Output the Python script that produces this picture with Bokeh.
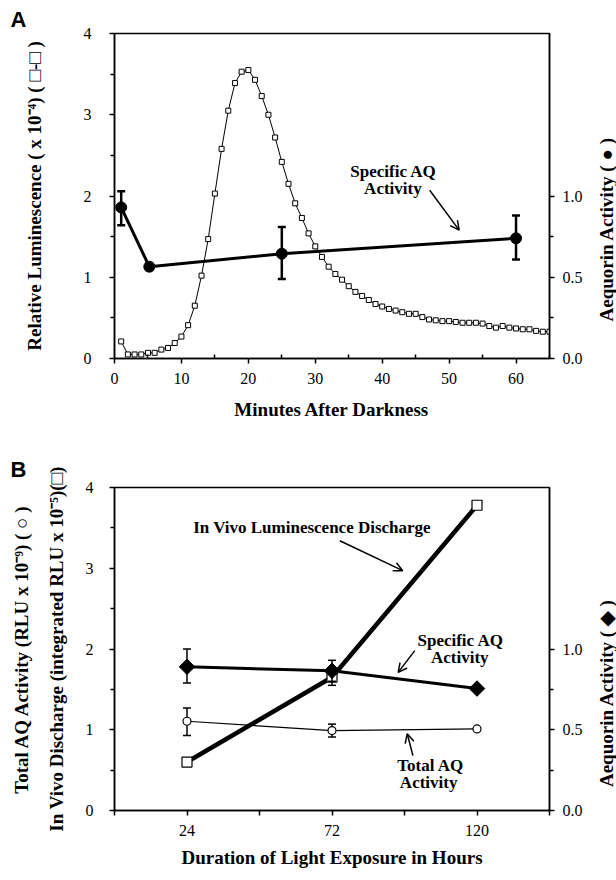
import numpy as np
from bokeh.plotting import figure
from bokeh.models import Range1d, LinearAxis, FixedTicker, Label, Arrow, OpenHead
from bokeh.layouts import column, row
from bokeh.embed import file_html
from bokeh.resources import INLINE

# ---------------- Panel A data ----------------
lum_minutes = list(range(1, 66))
lum_values = [0.21, 0.05, 0.05, 0.05, 0.07, 0.07, 0.11, 0.13, 0.19, 0.27,
              0.41, 0.65, 1.02, 1.47, 2.03, 2.58, 3.05, 3.39, 3.53, 3.55,
              3.43, 3.23, 3.00, 2.72, 2.42, 2.15, 1.91, 1.73, 1.54, 1.38,
              1.25, 1.13, 1.04, 0.97, 0.89, 0.82, 0.77, 0.72, 0.67, 0.64,
              0.61, 0.59, 0.57, 0.55, 0.55, 0.51, 0.48, 0.47, 0.46, 0.46,
              0.45, 0.44, 0.44, 0.44, 0.43, 0.40, 0.38, 0.40, 0.38, 0.37,
              0.36, 0.36, 0.34, 0.33, 0.33]
aqA_minutes = [1, 5.2, 25, 60]
aqA_activity = [0.93, 0.565, 0.645, 0.74]
aqA_upper = [1.03, 0.585, 0.81, 0.88]
aqA_lower = [0.82, 0.545, 0.49, 0.61]

# ---------------- Panel B data ----------------
hours = [24, 72, 120]
discharge = [0.60, 1.65, 3.78]
discharge_upper = [0.60, 1.75, 3.78]
discharge_lower = [0.60, 1.55, 3.78]
specB = [0.89, 0.865, 0.755]
specB_upper = [1.00, 0.93, 0.755]
specB_lower = [0.79, 0.80, 0.755]
totalB = [1.105, 0.99, 1.01]
totalB_upper = [1.27, 1.07, 1.01]
totalB_lower = [0.93, 0.91, 1.01]

SERIF = "Liberation Serif"
SANS = "Liberation Sans"
TICK_FS = "16px"
TITLE_FS = "19px"
ANN_FS = "17px"
MAIN_W = 586
STRIP_W = 616 - MAIN_W
PANEL_H = 440


def style_fig(p, letter, standoff):
    p.outline_line_color = "black"
    p.outline_line_width = 1.5
    p.xgrid.visible = False
    p.ygrid.visible = False
    p.background_fill_color = "white"
    p.border_fill_color = "white"
    p.title.text = letter
    p.title.align = "left"
    p.title.offset = -104
    p.title.standoff = standoff
    p.title.text_font = SANS
    p.title.text_font_style = "bold"
    p.title.text_font_size = "22px"
    p.title.text_color = "black"


def style_axis(ax):
    ax.axis_line_width = 1.5
    ax.axis_line_color = "black"
    ax.major_tick_line_width = 1.5
    ax.minor_tick_line_width = 1.5
    ax.major_tick_in = 0
    ax.major_tick_out = 5
    ax.minor_tick_in = 0
    ax.minor_tick_out = 4
    ax.major_label_text_font = SERIF
    ax.major_label_text_font_size = TICK_FS
    ax.major_label_text_color = "black"
    ax.axis_label_text_font = SERIF
    ax.axis_label_text_font_style = "bold"
    ax.axis_label_text_font_size = TITLE_FS
    ax.axis_label_text_color = "black"


def errbars(p, xs, ys_up, ys_lo, width, cap, range_name="default"):
    xe = [x for x, u, l in zip(xs, ys_up, ys_lo) if u != l]
    ue = [u for u, l in zip(ys_up, ys_lo) if u != l]
    le = [l for u, l in zip(ys_up, ys_lo) if u != l]
    kw = {} if range_name == "default" else {"y_range_name": range_name}
    p.segment(x0=xe, x1=xe, y0=le, y1=ue, line_color="black", line_width=width, **kw)
    p.scatter(xe, ue, marker="dash", size=cap, line_color="black", line_width=width, **kw)
    p.scatter(xe, le, marker="dash", size=cap, line_color="black", line_width=width, **kw)


def text_label(p, x, y, txt, size=ANN_FS, font=SERIF, angle=0.0):
    p.add_layout(Label(x=x, y=y, text=txt, text_font=font, text_font_size=size,
                       text_font_style="bold", text_align="center",
                       text_baseline="middle", angle=angle, text_color="black"))


def right_axis(p):
    ax = LinearAxis(y_range_name="right",
                    ticker=FixedTicker(ticks=[0, 0.5, 1.0], minor_ticks=[0.25, 0.75]))
    style_axis(ax)
    ax.major_label_overrides = {0: "0.0", 0.5: "0.5", 1: "1.0"}
    ax.major_label_standoff = 8
    p.add_layout(ax, "right")
    return ax


def title_strip(text, center_y):
    # narrow strip to the right of a panel, holding the rotated right-axis title
    s = figure(width=STRIP_W, height=PANEL_H, x_range=Range1d(MAIN_W, 616),
               y_range=Range1d(PANEL_H, 0), output_backend="svg",
               toolbar_location=None, x_axis_location=None, y_axis_location=None,
               min_border=0)
    s.outline_line_color = None
    s.xgrid.visible = False
    s.ygrid.visible = False
    s.border_fill_color = "white"
    s.background_fill_color = "white"
    text_label(s, 606, center_y, text, size=TITLE_FS, angle=np.pi / 2)
    return s


# ================= Panel A =================
pA = figure(width=MAIN_W, height=PANEL_H, x_range=Range1d(0, 65), y_range=Range1d(0, 4),
            output_backend="svg", toolbar_location=None,
            min_border_left=114, min_border_right=MAIN_W - 549, min_border_top=33,
            min_border_bottom=82)
pA.extra_y_ranges = {"right": Range1d(0, 2)}
style_fig(pA, "A", 3)

pA.xaxis.ticker = FixedTicker(ticks=[0, 10, 20, 30, 40, 50, 60],
                              minor_ticks=[5, 15, 25, 35, 45, 55, 65])
pA.yaxis.ticker = FixedTicker(ticks=[0, 1, 2, 3, 4], minor_ticks=[0.5, 1.5, 2.5, 3.5])
for ax in pA.xaxis + pA.yaxis:
    style_axis(ax)
pA.xaxis.minor_tick_out = 0
pA.xaxis.minor_tick_in = 4
pA.xaxis.axis_label = "Minutes After Darkness"
pA.xaxis.major_label_standoff = 9
pA.xaxis.axis_label_standoff = 12
pA.yaxis.axis_label = "Relative Luminescence ( x 10\u207b\u2074) ( \u25a1-\u25a1 )"
pA.yaxis.major_label_standoff = 18
pA.yaxis.axis_label_standoff = 36
right_axis(pA)

pA.line(lum_minutes, lum_values, line_color="black", line_width=1)
pA.scatter(lum_minutes, lum_values, marker="square", size=5, fill_color="white",
           line_color="black", line_width=1)
pA.line(aqA_minutes, aqA_activity, line_color="black", line_width=3, y_range_name="right")
errbars(pA, aqA_minutes, aqA_upper, aqA_lower, 2.5, 8, "right")
pA.scatter(aqA_minutes, aqA_activity, marker="circle", size=11, fill_color="black",
           line_color="black", y_range_name="right")

text_label(pA, 41.7, 2.30, "Specific AQ")
text_label(pA, 41.6, 2.09, "Activity")
pA.add_layout(Arrow(end=OpenHead(size=9, line_width=1.5, line_color="black"),
                    x_start=47.1, y_start=2.07, x_end=51.5, y_end=1.58,
                    line_width=1.5, line_color="black"))
sA = title_strip("Aequorin Activity ( \u25cf )", 265)

# ================= Panel B =================
pB = figure(width=MAIN_W, height=PANEL_H, x_range=Range1d(0, 144), y_range=Range1d(0, 4),
            output_backend="svg", toolbar_location=None,
            min_border_left=114, min_border_right=MAIN_W - 549, min_border_top=47,
            min_border_bottom=70)
pB.extra_y_ranges = {"right": Range1d(0, 2)}
style_fig(pB, "B", 12)

pB.xaxis.ticker = FixedTicker(ticks=hours, minor_ticks=[0, 48, 96, 144])
pB.yaxis.ticker = FixedTicker(ticks=[0, 1, 2, 3, 4], minor_ticks=[0.5, 1.5, 2.5, 3.5])
for ax in pB.xaxis + pB.yaxis:
    style_axis(ax)
pB.xaxis.minor_tick_out = 5
pB.xaxis.axis_label = "Duration of Light Exposure in Hours"
pB.xaxis.major_label_standoff = 9
pB.xaxis.axis_label_standoff = 8
pB.yaxis.axis_label = "In Vivo Discharge (integrated RLU x 10\u207b\u2075)(\u25a1)"
pB.yaxis.major_label_standoff = 16
pB.yaxis.axis_label_standoff = 16

outer = LinearAxis(ticker=FixedTicker(ticks=[]),
                   axis_label="Total AQ Activity (RLU x 10\u207b\u2079) ( \u25cb )")
style_axis(outer)
outer.axis_line_color = None
outer.major_tick_line_color = None
outer.minor_tick_line_color = None
outer.major_label_text_font_size = "0px"
outer.major_tick_out = 0
outer.minor_tick_out = 0
outer.major_label_standoff = 0
outer.axis_label_standoff = 11
pB.add_layout(outer, "left")
right_axis(pB)

# total AQ (thin, open circles)
pB.line(hours, totalB, line_color="black", line_width=1.2)
errbars(pB, hours, totalB_upper, totalB_lower, 1.5, 8)
pB.scatter(hours, totalB, marker="circle", size=8, fill_color="white",
           line_color="black", line_width=1.2)
# in vivo discharge (thick, open squares)
pB.line(hours, discharge, line_color="black", line_width=4.5)
errbars(pB, hours, discharge_upper, discharge_lower, 1.5, 8)
pB.scatter(hours, discharge, marker="square", size=10, fill_color="white",
           line_color="black", line_width=1.2)
# specific AQ (diamonds)
pB.line(hours, specB, line_color="black", line_width=3, y_range_name="right")
errbars(pB, hours, specB_upper, specB_lower, 1.5, 8, "right")
pB.scatter(hours, specB, marker="square", angle=np.pi / 4, size=11, fill_color="black",
           line_color="black", y_range_name="right")

text_label(pB, 65.4, 3.505, "In Vivo Luminescence Discharge")
pB.add_layout(Arrow(end=OpenHead(size=9, line_width=1.5, line_color="black"),
                    x_start=74.6, y_start=3.34, x_end=95.4, y_end=2.97,
                    line_width=1.5, line_color="black"))
text_label(pB, 114.6, 2.105, "Specific AQ")
text_label(pB, 114.3, 1.895, "Activity")
pB.add_layout(Arrow(end=OpenHead(size=9, line_width=1.5, line_color="black"),
                    x_start=99.4, y_start=1.98, x_end=93.9, y_end=1.71,
                    line_width=1.5, line_color="black"))
text_label(pB, 104.7, 0.557, "Total AQ")
text_label(pB, 104.0, 0.347, "Activity")
pB.add_layout(Arrow(end=OpenHead(size=9, line_width=1.5, line_color="black"),
                    x_start=98.8, y_start=0.68, x_end=96.9, y_end=0.95,
                    line_width=1.5, line_color="black"))
sB = title_strip("Aequorin Activity ( \u25c6 )", 720 - PANEL_H)

layout = column(row(pA, sA, spacing=0), row(pB, sB, spacing=0), spacing=0)
open("out.html", "w").write(file_html(layout, INLINE))
